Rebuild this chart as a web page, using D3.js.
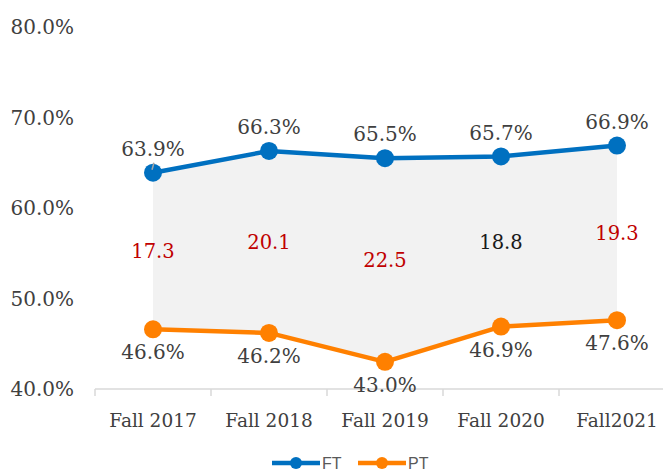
<!DOCTYPE html>
<html lang="en">
<head>
    <meta charset="UTF-8">
    <title>FT vs PT</title>
    <script src="https://d3js.org/d3.v7.min.js"></script>
    <style>
        body { margin: 0; background: #fff; }
        svg text { font-family: "DejaVu Serif", serif; }
    </style>
</head>
<body>
    <div id="chart"></div>
    <script>
        // chart data
        const terms = ["Fall 2017", "Fall 2018", "Fall 2019", "Fall 2020", "Fall2021"];
        const ftValues = [63.9, 66.3, 65.5, 65.7, 66.9];
        const ptValues = [46.6, 46.2, 43.0, 46.9, 47.6];
        const gapLabels = ["17.3", "20.1", "22.5", "18.8", "19.3"];
        const gapColors = ["#c00000", "#c00000", "#c00000", "#1a1a1a", "#c00000"];
        const yTicks = [40, 50, 60, 70, 80];

        const width = 663, height = 474;
        const blue = "#0070c0", orange = "#ff8000";

        const svg = d3.select("#chart").append("svg")
            .attr("width", width)
            .attr("height", height);

        const x = d3.scaleBand().domain(terms).range([95, 675]);
        const y = d3.scaleLinear().domain([40, 80]).range([389, 27]);
        const cx = d => x(d) + x.bandwidth() / 2;

        // y labels (no axis line)
        svg.append("g").selectAll("text")
            .data(yTicks)
            .join("text")
            .attr("x", 74)
            .attr("y", d => y(d))
            .attr("dy", "0.36em")
            .attr("text-anchor", "end")
            .attr("font-size", 20)
            .attr("fill", "#404040")
            .text(d => d.toFixed(1) + "%");

        // shaded gap between the two lines
        const rows = terms.map((t, i) => ({ t, ft: ftValues[i], pt: ptValues[i] }));
        svg.append("path")
            .datum(rows)
            .attr("fill", "#f2f2f2")
            .attr("d", d3.area()
                .x(d => cx(d.t))
                .y0(d => y(d.pt))
                .y1(d => y(d.ft)));

        // x axis
        const xAxis = svg.append("g")
            .attr("transform", "translate(0," + y(40) + ")")
            .call(d3.axisBottom(x).tickSize(0).tickPadding(0).tickFormat(""));
        xAxis.select(".domain").remove();
        xAxis.append("line")
            .attr("x1", 95).attr("x2", width)
            .attr("stroke", "#d9d9d9").attr("stroke-width", 1.5);
        xAxis.selectAll(".tk")
            .data(terms)
            .join("line")
            .attr("class", "tk")
            .attr("x1", d => x(d)).attr("x2", d => x(d))
            .attr("y1", 0).attr("y2", 7)
            .attr("stroke", "#d9d9d9").attr("stroke-width", 1.5);
        svg.append("g").selectAll("text")
            .data(terms)
            .join("text")
            .attr("x", d => cx(d))
            .attr("y", 420)
            .attr("dy", "0.36em")
            .attr("text-anchor", "middle")
            .attr("font-size", 18.5)
            .attr("fill", "#404040")
            .text(d => d);

        // gap labels in the middle of the band
        svg.append("g").selectAll("text")
            .data(rows)
            .join("text")
            .attr("x", d => cx(d.t))
            .attr("y", d => y((d.ft + d.pt) / 2))
            .attr("dy", "0.36em")
            .attr("text-anchor", "middle")
            .attr("font-size", 19.5)
            .attr("fill", (d, i) => gapColors[i])
            .text((d, i) => gapLabels[i]);

        const line = d3.line().x(d => cx(d.t)).y(d => y(d.v));

        function drawSeries(vals, color, offset) {
            const pts = terms.map((t, i) => ({ t, v: vals[i] }));
            svg.append("path")
                .datum(pts)
                .attr("fill", "none")
                .attr("stroke", color)
                .attr("stroke-width", 4.5)
                .attr("stroke-linejoin", "round")
                .attr("d", line);
            svg.append("g").selectAll("circle")
                .data(pts)
                .join("circle")
                .attr("cx", d => cx(d.t))
                .attr("cy", d => y(d.v))
                .attr("r", 9)
                .attr("fill", color);
            svg.append("g").selectAll("text")
                .data(pts)
                .join("text")
                .attr("x", d => cx(d.t))
                .attr("y", d => y(d.v) + offset)
                .attr("dy", "0.36em")
                .attr("text-anchor", "middle")
                .attr("font-size", 20)
                .attr("fill", "#404040")
                .text(d => d.v.toFixed(1) + "%");
        }

        drawSeries(ftValues, blue, -24);
        drawSeries(ptValues, orange, 23);

        // small leader line on first FT label
        svg.append("line")
            .attr("x1", cx(terms[0]) + 1).attr("y1", y(ftValues[0]) - 10)
            .attr("x2", cx(terms[0]) - 1).attr("y2", y(ftValues[0]) - 3)
            .attr("stroke", "#a6a6a6").attr("stroke-width", 1.5);

        // legend
        const legend = svg.append("g").attr("transform", "translate(0,463)");
        const items = [{ name: "FT", color: blue, x0: 272 }, { name: "PT", color: orange, x0: 358 }];
        items.forEach(it => {
            legend.append("line")
                .attr("x1", it.x0).attr("x2", it.x0 + 48)
                .attr("stroke", it.color).attr("stroke-width", 4.5);
            legend.append("circle")
                .attr("cx", it.x0 + 24).attr("r", 6)
                .attr("fill", it.color);
            legend.append("text")
                .attr("x", it.x0 + 50)
                .attr("dy", "0.36em")
                .attr("font-size", 16)
                .style("font-family", "'Liberation Sans', sans-serif")
                .attr("fill", "#595959")
                .text(it.name);
        });
    </script>
</body>
</html>
